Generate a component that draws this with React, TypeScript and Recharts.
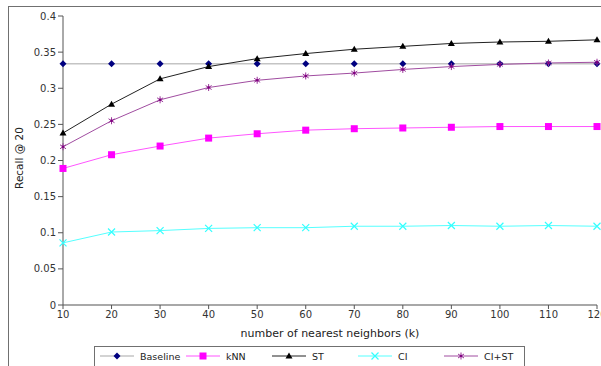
import React from 'react';
import { LineChart, Line, XAxis, YAxis } from 'recharts';

const kValues = [10, 20, 30, 40, 50, 60, 70, 80, 90, 100, 110, 120];
const baseline = [0.334, 0.334, 0.334, 0.334, 0.334, 0.334, 0.334, 0.334, 0.334, 0.334, 0.334, 0.334];
const knn = [0.189, 0.208, 0.22, 0.231, 0.237, 0.242, 0.244, 0.245, 0.246, 0.247, 0.247, 0.247];
const st = [0.238, 0.278, 0.313, 0.33, 0.341, 0.348, 0.354, 0.358, 0.362, 0.364, 0.365, 0.367];
const ci = [0.086, 0.101, 0.103, 0.106, 0.107, 0.107, 0.109, 0.109, 0.11, 0.109, 0.11, 0.109];
const cist = [0.219, 0.255, 0.284, 0.301, 0.311, 0.317, 0.321, 0.326, 0.33, 0.333, 0.335, 0.336];
const yTicks = [0, 0.05, 0.1, 0.15, 0.2, 0.25, 0.3, 0.35, 0.4];
const xTicks = [10, 20, 30, 40, 50, 60, 70, 80, 90, 100, 110, 120];
const seriesNames = ['Baseline', 'kNN', 'ST', 'CI', 'CI+ST'];
const xTitle = 'number of nearest neighbors (k)';
const yTitle = 'Recall @ 20';

const data = kValues.map((k, i) => ({
  k,
  Baseline: baseline[i],
  kNN: knn[i],
  ST: st[i],
  CI: ci[i],
  'CI+ST': cist[i],
}));

const FONT = '"DejaVu Sans", Verdana, sans-serif';

type MP = { cx: number; cy: number };
const Diamond = ({ cx, cy }: MP) => (
  <path d={`M${cx},${cy - 3.5}L${cx + 3.5},${cy}L${cx},${cy + 3.5}L${cx - 3.5},${cy}Z`} fill="#000080" />
);
const Square = ({ cx, cy }: MP) => <rect x={cx - 3.5} y={cy - 3.5} width={7} height={7} fill="#ff00ff" />;
const Triangle = ({ cx, cy }: MP) => (
  <path d={`M${cx},${cy - 3.5}L${cx + 3.5},${cy + 2.5}L${cx - 3.5},${cy + 2.5}Z`} fill="#000000" />
);
const Cross = ({ cx, cy }: MP) => (
  <path d={`M${cx - 3.5},${cy - 3.5}L${cx + 3.5},${cy + 3.5}M${cx - 3.5},${cy + 3.5}L${cx + 3.5},${cy - 3.5}`} stroke="#33ffff" strokeWidth={1.2} fill="none" />
);
const Asterisk = ({ cx, cy }: MP) => (
  <g>
    <path
      d={`M${cx},${cy - 3.5}L${cx},${cy + 3.5}M${cx - 3},${cy - 2}L${cx + 3},${cy + 2}M${cx - 3},${cy + 2}L${cx + 3},${cy - 2}`}
      stroke="#993399"
      strokeWidth={1}
      fill="none"
    />
    <circle cx={cx} cy={cy} r={1.3} fill="#800080" />
  </g>
);

const markers: Record<string, (p: MP) => React.ReactElement> = {
  Baseline: Diamond,
  kNN: Square,
  ST: Triangle,
  CI: Cross,
  'CI+ST': Asterisk,
};
const lineColors: Record<string, string> = {
  Baseline: '#c4c4c4',
  kNN: '#ff55ff',
  ST: '#222222',
  CI: '#55ffff',
  'CI+ST': '#a04ca0',
};
const lineWidths: Record<string, number> = {
  Baseline: 1.5,
  kNN: 1,
  ST: 1,
  CI: 1,
  'CI+ST': 1,
};

const makeDot = (name: string) => (props: any) => {
  const M = markers[name];
  if (props.cx == null || props.cy == null) return <g key={`${name}-${props.index}`} />;
  return (
    <g key={`${name}-${props.index}`}>
      <M cx={props.cx} cy={props.cy} />
    </g>
  );
};

const Legend = () => (
  <div
    style={{
      position: 'absolute',
      left: 94,
      top: 346,
      width: 431,
      height: 30,
      border: '1px solid #707070',
      boxSizing: 'border-box',
      background: '#fff',
    }}
  >
    <svg width={429} height={28} style={{ display: 'block' }}>
      {seriesNames.map((name, i) => {
        const x0 = 5 + 86 * i;
        const M = markers[name];
        return (
          <g key={name}>
            <line x1={x0} x2={x0 + 34} y1={9} y2={9} stroke={lineColors[name]} strokeWidth={lineWidths[name]} />
            <M cx={x0 + 17} cy={9} />
            <text x={x0 + 40} y={12.5} fontSize={9.5} fontFamily={FONT} fill="#222">
              {name}
            </text>
          </g>
        );
      })}
    </svg>
  </div>
);

export default function App() {
  return (
    <div
      style={{
        position: 'absolute',
        left: 0,
        top: 0,
        width: 601,
        height: 366,
        overflow: 'hidden',
        background: '#fff',
      }}
    >
      <div
        style={{
          position: 'absolute',
          left: 8,
          top: 6,
          width: 600,
          height: 370,
          borderTop: '1px solid #707070',
          borderLeft: '1px solid #707070',
        }}
      />
      <div style={{ position: 'absolute', left: 0, top: 0 }}>
        <LineChart width={601} height={366} data={data} margin={{ top: 16, right: 4, left: 13, bottom: 31 }}>
          <XAxis
            dataKey="k"
            type="number"
            domain={[10, 120]}
            ticks={xTicks}
            interval={0}
            height={30}
            axisLine={{ stroke: '#a8a8a8', strokeWidth: 2 }}
            tickLine={{ stroke: '#555' }}
            tickSize={4}
            tick={{ fontSize: 10, fontFamily: FONT, fill: '#333' }}
            label={({ viewBox }: any) => (
              <text
                x={viewBox.x + viewBox.width / 2}
                y={viewBox.y + 32}
                textAnchor="middle"
                fontSize={11}
                fontFamily={FONT}
                fill="#222"
              >
                {xTitle}
              </text>
            )}
          />
          <YAxis
            type="number"
            domain={[0, 0.4]}
            ticks={yTicks}
            interval={0}
            width={50}
            axisLine={{ stroke: '#555' }}
            tickLine={{ stroke: '#555' }}
            tickSize={5}
            tick={{ fontSize: 10, fontFamily: FONT, fill: '#333' }}
            label={() => (
              <text
                x={23}
                y={158}
                transform="rotate(-90 23 158)"
                textAnchor="middle"
                fontSize={10.5}
                fontFamily={FONT}
                fill="#222"
              >
                {yTitle}
              </text>
            )}
          />
          {seriesNames.map((name) => (
            <Line
              key={name}
              dataKey={name}
              type="linear"
              stroke={lineColors[name]}
              strokeWidth={lineWidths[name]}
              dot={makeDot(name)}
              activeDot={false}
              isAnimationActive={false}
            />
          ))}
        </LineChart>
      </div>
      <Legend />
    </div>
  );
}
